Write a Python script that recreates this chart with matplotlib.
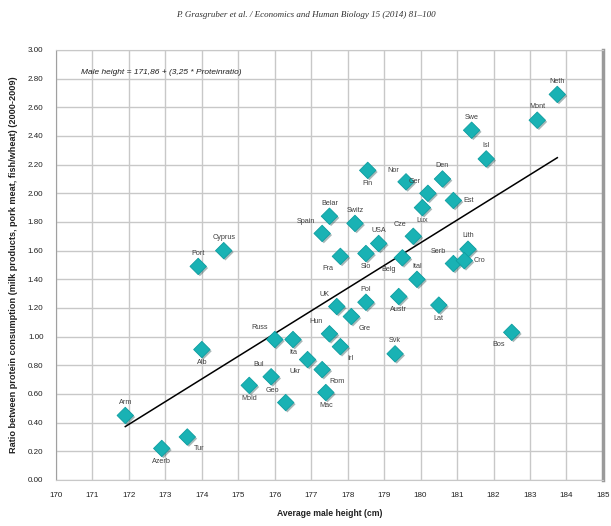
import numpy as np
import matplotlib
matplotlib.use('Agg')
import matplotlib.pyplot as plt
import matplotlib.patheffects as pe

# ─────────────────────────────────────────
# DATOS
# ─────────────────────────────────────────
paises = ['Arm', 'Azerb', 'Tur', 'Alb', 'Port', 'Cyprus', 'Mold', 'Bul', 'Geo',
          'Russ', 'Ita', 'Ukr', 'Rom', 'Mac', 'Hun', 'Irl', 'Svk',
          'Fin', 'Nor', 'Den', 'Ger', 'Lux', 'Belar', 'Switz', 'Spain', 'USA',
          'Slo', 'Fra', 'Cze', 'Belg', 'Ital', 'UK', 'Gre', 'Pol', 'Austr', 'Lat',
          'Neth', 'Mont', 'Swe', 'Isl', 'Est', 'Serb', 'Lith', 'Cro', 'Bos']

altura = [171.9, 172.9, 173.6, 174.0, 173.9, 174.6, 175.3, 175.9, 176.3,
          176.0, 176.5, 176.9, 177.3, 177.4, 177.5, 177.8, 179.3,
          178.55, 179.6, 180.6, 180.2, 180.05, 177.5, 178.2, 177.3, 178.85,
          178.5, 177.8, 179.8, 179.5, 179.9, 177.7, 178.1, 178.5, 179.4, 180.5,
          183.75, 183.2, 181.4, 181.8, 180.9, 180.9, 181.3, 181.2, 182.5]

ratio = [0.45, 0.22, 0.30, 0.91, 1.49, 1.60, 0.66, 0.72, 0.54,
         0.98, 0.98, 0.84, 0.77, 0.61, 1.02, 0.93, 0.88,
         2.16, 2.08, 2.10, 2.00, 1.90, 1.84, 1.79, 1.72, 1.65,
         1.58, 1.56, 1.70, 1.55, 1.40, 1.21, 1.14, 1.24, 1.28, 1.22,
         2.69, 2.51, 2.44, 2.24, 1.95, 1.51, 1.61, 1.53, 1.03]

# posición de las etiquetas (arriba, abajo, etc.)
pos_etiqueta = {
    'Azerb': 'b', 'Tur': 'br', 'Alb': 'b', 'Mold': 'b', 'Bul': 'al', 'Geo': 'al',
    'Russ': 'al', 'Ita': 'b', 'Ukr': 'bl', 'Rom': 'br', 'Mac': 'b', 'Hun': 'al',
    'Irl': 'br', 'Fin': 'b', 'Nor': 'al', 'Ger': 'al', 'Lux': 'b', 'Spain': 'al',
    'Slo': 'b', 'Fra': 'bl', 'Cze': 'al', 'Belg': 'bl', 'UK': 'al', 'Gre': 'br',
    'Austr': 'b', 'Lat': 'b', 'Est': 'r', 'Serb': 'al', 'Cro': 'r', 'Bos': 'bl',
}
offsets = {'a': (0, 7, 'center', 'bottom'), 'b': (0, -7, 'center', 'top'),
           'al': (-5, 6, 'right', 'bottom'), 'bl': (-5, -6, 'right', 'top'),
           'br': (5, -6, 'left', 'top'), 'r': (7, 0, 'left', 'center')}

x = np.array(altura)
y = np.array(ratio)

plt.rcParams['font.family'] = ['Liberation Sans', 'DejaVu Sans']

fig = plt.figure(figsize=(6.11, 5.26), dpi=100)
ax = fig.add_axes([0.0917, 0.0875, 0.895, 0.8175])

ax.scatter(x, y, marker='D', s=70, c='#19B2B4', edgecolors='#0E9EA1',
           linewidths=0.6, zorder=3,
           path_effects=[pe.SimplePatchShadow(offset=(1.2, -1.2), alpha=0.35),
                         pe.Normal()])

# línea de tendencia (ajuste lineal)
m, b = np.polyfit(x, y, 1)
x_line = np.array([x.min(), x.max()])
ax.plot(x_line, m * x_line + b, color='black', linewidth=1.1, zorder=2)

for nombre, xi, yi in zip(paises, x, y):
    dx, dy, ha, va = offsets[pos_etiqueta.get(nombre, 'a')]
    ax.annotate(nombre, (xi, yi), textcoords='offset points', xytext=(dx, dy),
                ha=ha, va=va, fontsize=5.2, color='#404040')

ax.set_xlim(170, 185)
ax.set_ylim(0, 3.0)
ax.set_xticks(np.arange(170, 186, 1))
ax.set_yticks(np.arange(0, 3.01, 0.2))
ax.set_yticklabels([f'{v:.2f}' for v in np.arange(0, 3.01, 0.2)])
ax.tick_params(labelsize=5.8, colors='#202020', length=0, pad=9)
ax.grid(color='#C8C8C8', linewidth=1.0)
ax.set_axisbelow(True)

for s in ['top', 'bottom']:
    ax.spines[s].set_color('#C8C8C8')
ax.spines['left'].set_color('#A0A0A0')
ax.spines['right'].set_color('#9A9A9A')
ax.spines['right'].set_linewidth(2.5)

ax.set_xlabel('Average male height (cm)', fontsize=6.2, fontweight='bold',
              color='#202020', labelpad=7)
ax.set_ylabel('Ratio between protein consumption (milk products, pork meat, fish/wheat) (2000-2009)',
              fontsize=6.6, fontweight='bold', color='#202020', labelpad=7)

ax.text(0.045, 0.955, 'Male height = 171,86 + (3,25 * Proteinratio)',
        transform=ax.transAxes, fontsize=6, style='italic',
        color='#202020', va='top')

fig.text(0.5, 0.972, 'P. Grasgruber et al. / Economics and Human Biology 15 (2014) 81\u2013100',
         ha='center', va='center', fontsize=6.5, style='italic', color='#303030',
         family=['Liberation Serif', 'DejaVu Serif'])

plt.savefig('out.png', dpi=100, facecolor='white')
plt.close()
